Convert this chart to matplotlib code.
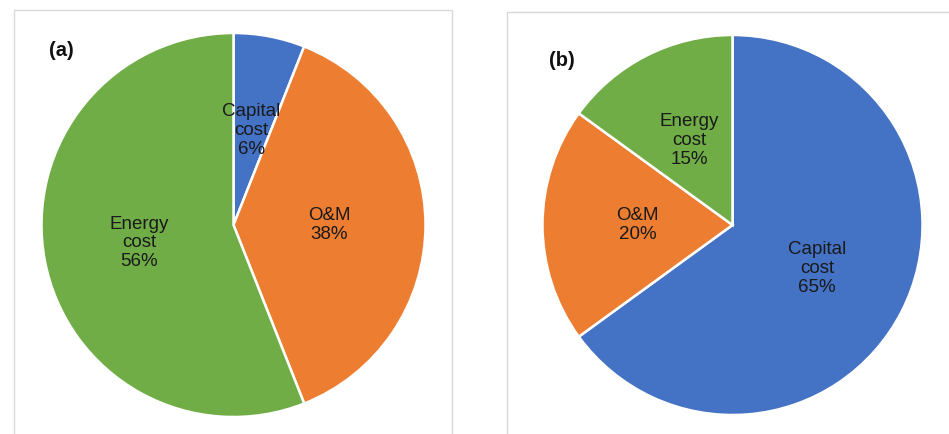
import numpy as np
import matplotlib.pyplot as plt
from matplotlib.patches import Rectangle

# data
labels = ["Capital\ncost", "O&M", "Energy\ncost"]
share_a = [6, 38, 56]
share_b = [65, 20, 15]
colors = ["#4472C4", "#ED7D31", "#70AD47"]

W, H = 949, 434
plt.rcParams["font.family"] = ["Liberation Sans", "DejaVu Sans"]

fig = plt.figure(figsize=(W / 100, H / 100), dpi=100)
fig.patch.set_facecolor("white")


def px_axes(cx, cy, r):
    # axes box that exactly holds a circle of radius r px centred at (cx, cy) (top-left origin)
    return fig.add_axes([(cx - r) / W, (H - cy - r) / H, 2 * r / W, 2 * r / H])


def draw_pie(ax, values, tag, tag_xy):
    ax.pie(values, labels=None, colors=colors, startangle=90, counterclock=False,
           radius=1, wedgeprops=dict(edgecolor="white", linewidth=1.8))
    # labels inside the slices, Excel-style
    ang = 90.0
    for lab, v in zip(labels, values):
        mid = np.deg2rad(ang - v * 3.6 / 2)
        ang -= v * 3.6
        ax.text(0.5 * np.cos(mid), 0.5 * np.sin(mid), f"{lab}\n{v}%",
                ha="center", va="center", fontsize=13.5, color="#1a1a1a",
                linespacing=1.15)
    ax.set_xlim(-1, 1)
    ax.set_ylim(-1, 1)
    ax.set_aspect("equal")
    ax.axis("off")
    fig.text(tag_xy[0] / W, 1 - tag_xy[1] / H, tag, fontsize=14.5, fontweight="bold",
             ha="left", va="center", color="#111111")


# panel borders
fig.patches.append(Rectangle((14 / W, -0.05), (452 - 14) / W, 1.05 - 10 / H,
                             transform=fig.transFigure, fill=False,
                             edgecolor="#D9D9D9", linewidth=1))
fig.patches.append(Rectangle((507 / W, -0.05), 1.0, 1.05 - 12 / H,
                             transform=fig.transFigure, fill=False,
                             edgecolor="#D9D9D9", linewidth=1))

ax1 = px_axes(233.5, 225, 192)
draw_pie(ax1, share_a, "(a)", (49, 51))

ax2 = px_axes(732.5, 225, 190)
draw_pie(ax2, share_b, "(b)", (549, 60))

fig.savefig("out.png", dpi=100)
